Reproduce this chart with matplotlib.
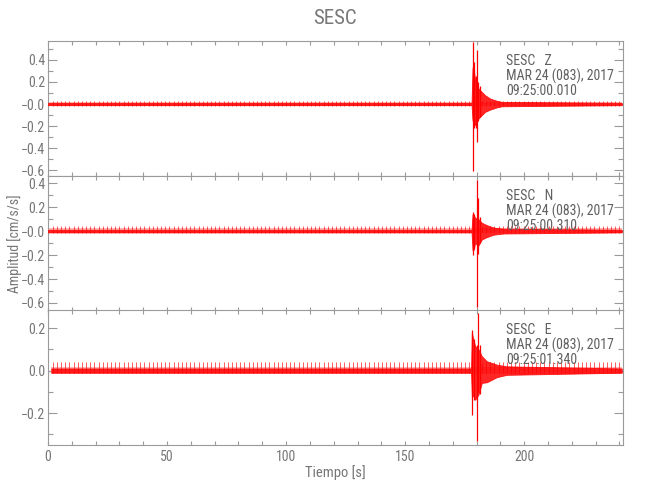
import matplotlib
matplotlib.use("Agg")
import matplotlib.pyplot as plt
from matplotlib import font_manager
from matplotlib.ticker import MultipleLocator, FixedLocator, FixedFormatter

# --- data (time in s, amplitude in cm/s/s) ---
station = "SESC"
date_label = "MAR 24 (083), 2017"
components = ["Z", "N", "E"]
start_times = ["09:25:00.010", "09:25:00.310", "09:25:01.340"]

# periodic time marks seen along every trace
spike_t = [
    2.0, 3.75, 5.5, 7.25, 9.0, 10.75, 12.5, 14.25, 16.0, 17.75, 19.5, 21.25,
    23.0, 24.75, 26.5, 28.25, 30.0, 31.75, 33.5, 35.25, 37.0, 38.75, 40.5, 42.25,
    44.0, 45.75, 47.5, 49.25, 51.0, 52.75, 54.5, 56.25, 58.0, 59.75, 61.5, 63.25,
    65.0, 66.75, 68.5, 70.25, 72.0, 73.75, 75.5, 77.25, 79.0, 80.75, 82.5, 84.25,
    86.0, 87.75, 89.5, 91.25, 93.0, 94.75, 96.5, 98.25, 100.0, 101.75, 103.5, 105.25,
    107.0, 108.75, 110.5, 112.25, 114.0, 115.75, 117.5, 119.25, 121.0, 122.75, 124.5, 126.25,
    128.0, 129.75, 131.5, 133.25, 135.0, 136.75, 138.5, 140.25, 142.0, 143.75, 145.5, 147.25,
    149.0, 150.75, 152.5, 154.25, 156.0, 157.75, 159.5, 161.25, 163.0, 164.75, 166.5, 168.25,
    170.0, 171.75, 173.5, 175.25, 177.0, 178.75, 180.5, 182.25, 184.0, 185.75, 187.5, 189.25,
    191.0, 192.75, 194.5, 196.25, 198.0, 199.75, 201.5, 203.25, 205.0, 206.75, 208.5, 210.25,
    212.0, 213.75, 215.5, 217.25, 219.0, 220.75, 222.5, 224.25, 226.0, 227.75, 229.5, 231.25,
    233.0, 234.75, 236.5, 238.25, 240.0,
]
spike_hi = [0.032, 0.040, 0.042]
spike_lo = [-0.015, -0.015, -0.012]

# background noise halo (light) per component
halo_hi = [0.018, 0.022, 0.016]
halo_lo = [-0.020, -0.020, -0.018]

# envelope of the trace
z_env_t = [0.0, 177.9, 178.3, 178.7, 179.4, 180.8, 182.2, 183.6, 185.7, 188.5, 190.6, 241.0]
z_env_hi = [0.01, 0.01, 0.33, 0.33, 0.22, 0.14, 0.11, 0.08, 0.05, 0.03, 0.02, 0.01]
z_env_lo = [-0.01, -0.01, -0.15, -0.15, -0.19, -0.13, -0.10, -0.07, -0.05, -0.03, -0.02, -0.01]

n_env_t = [0.0, 177.9, 178.3, 178.7, 179.4, 180.8, 182.2, 184.3, 187.1, 191.3, 241.0]
n_env_hi = [0.011, 0.011, 0.14, 0.14, 0.11, 0.10, 0.07, 0.05, 0.03, 0.02, 0.011]
n_env_lo = [-0.011, -0.011, -0.16, -0.16, -0.10, -0.12, -0.07, -0.05, -0.03, -0.02, -0.011]

e_env_t = [1.4, 177.7, 178.0, 178.6, 179.4, 180.8, 182.2, 184.3, 188.5, 192.7, 241.0]
e_env_hi = [0.01, 0.01, 0.18, 0.15, 0.115, 0.10, 0.068, 0.044, 0.028, 0.02, 0.01]
e_env_lo = [-0.01, -0.01, -0.12, -0.12, -0.137, -0.113, -0.058, -0.055, -0.031, -0.02, -0.01]

# individual large swings near the onset
z_peak_t = [178.3, 178.8, 179.6, 180.0, 180.5, 181.5]
z_peak_hi = [0.56, 0.38, 0.25, 0.485, 0.20, 0.16]
z_peak_lo = [-0.606, -0.22, -0.22, -0.343, -0.15, -0.12]

n_peak_t = [178.3, 178.8, 180.0, 180.8, 181.6]
n_peak_hi = [0.16, 0.14, 0.43, 0.278, 0.12]
n_peak_lo = [-0.20, -0.15, -0.633, -0.19, -0.10]

e_peak_t = [178.2, 179.0, 180.0, 180.8, 181.6]
e_peak_hi = [0.193, 0.15, 0.12, 0.272, 0.12]
e_peak_lo = [-0.208, -0.14, -0.333, -0.10, -0.11]

env_t = [z_env_t, n_env_t, e_env_t]
env_hi = [z_env_hi, n_env_hi, e_env_hi]
env_lo = [z_env_lo, n_env_lo, e_env_lo]
peak_t = [z_peak_t, n_peak_t, e_peak_t]
peak_hi = [z_peak_hi, n_peak_hi, e_peak_hi]
peak_lo = [z_peak_lo, n_peak_lo, e_peak_lo]

ylims = [(-0.65, 0.57), (-0.667, 0.46), (-0.35, 0.285)]
ytick_vals = [[0.4, 0.2, 0.0, -0.2, -0.4, -0.6],
              [0.4, 0.2, 0.0, -0.2, -0.4, -0.6],
              [0.2, 0.0, -0.2]]
ytick_txt = [["0.4", "0.2", "\u22120.0", "\u22120.2", "\u22120.4", "\u22120.6"],
             ["0.4", "0.2", "\u22120.0", "\u22120.2", "\u22120.4", "\u22120.6"],
             ["0.2", "0.0", "\u22120.2"]]

# pick a narrow-ish font if one is installed
installed = {f.name for f in font_manager.fontManager.ttflist}
family = "DejaVu Sans"
for name in ["Liberation Sans Narrow", "Roboto Condensed", "Roboto", "Liberation Sans"]:
    if name in installed:
        family = name
        break
plt.rcParams["font.family"] = family

axis_col = "#9a9a9a"
text_col = "#777777"

fig = plt.figure(figsize=(6.5, 5), dpi=100)
left, width = 48 / 650, 575 / 650
tops = [41, 176, 310]
axes = []
for i in range(3):
    ax = fig.add_axes([left, 1 - (tops[i] + 135) / 500, width, 135 / 500])
    axes.append(ax)

for i, ax in enumerate(axes):
    ax.axhline(0, color="#302020", lw=0.8, zorder=1)
    t0, t1 = env_t[i][0], env_t[i][-1]
    ax.fill_between([t0, t1], [halo_lo[i]] * 2, [halo_hi[i]] * 2,
                    color="#ffb4b4", lw=0, zorder=2)
    ax.vlines([t for t in spike_t if t > t0], spike_lo[i], spike_hi[i],
              color="#ff1a1a", lw=0.5, zorder=3)
    ax.fill_between(env_t[i], env_lo[i], env_hi[i], color="#ff0000", lw=0.6,
                    edgecolor="#ff0000", alpha=0.85, zorder=4)
    ax.vlines(peak_t[i], peak_lo[i], peak_hi[i], color="#ff0000", lw=0.9, zorder=5)

    ax.set_xlim(0, 241.5)
    ax.set_ylim(*ylims[i])
    ax.xaxis.set_major_locator(MultipleLocator(50))
    ax.xaxis.set_minor_locator(MultipleLocator(10))
    ax.yaxis.set_major_locator(FixedLocator(ytick_vals[i]))
    ax.yaxis.set_major_formatter(FixedFormatter(ytick_txt[i]))
    ax.yaxis.set_minor_locator(MultipleLocator(0.1))
    ax.tick_params(axis="x", which="both", direction="in", top=True, length=3,
                   width=0.8, color=axis_col, labelcolor=text_col, labelsize=10)
    ax.tick_params(axis="y", which="major", direction="in", right=True, length=6.8,
                   width=0.8, color=axis_col, labelcolor=text_col, labelsize=10, pad=2)
    ax.tick_params(axis="y", which="minor", direction="in", right=True, length=3.8,
                   width=0.8, color=axis_col)
    for sp in ax.spines.values():
        sp.set_color(axis_col)
        sp.set_linewidth(0.8)
    if i < 2:
        ax.tick_params(axis="x", labelbottom=False)

    info = [f"{station}   {components[i]}", date_label, start_times[i]]
    for line, yfrac in zip(info, [0.852, 0.741, 0.633]):
        ax.text(0.797, yfrac, line, transform=ax.transAxes, ha="left",
                va="center", fontsize=10, color="#606060", zorder=6)

axes[1].set_ylabel("Amplitud [cm/s/s]", color=text_col, fontsize=10)
axes[1].yaxis.set_label_coords(-0.045, 0.5)
axes[2].set_xlabel("Tiempo [s]", color=text_col, fontsize=10.5, labelpad=1)
fig.text(0.515, 0.964, station, ha="center", va="center", fontsize=15, color=text_col)

fig.savefig("out.png", dpi=100)
